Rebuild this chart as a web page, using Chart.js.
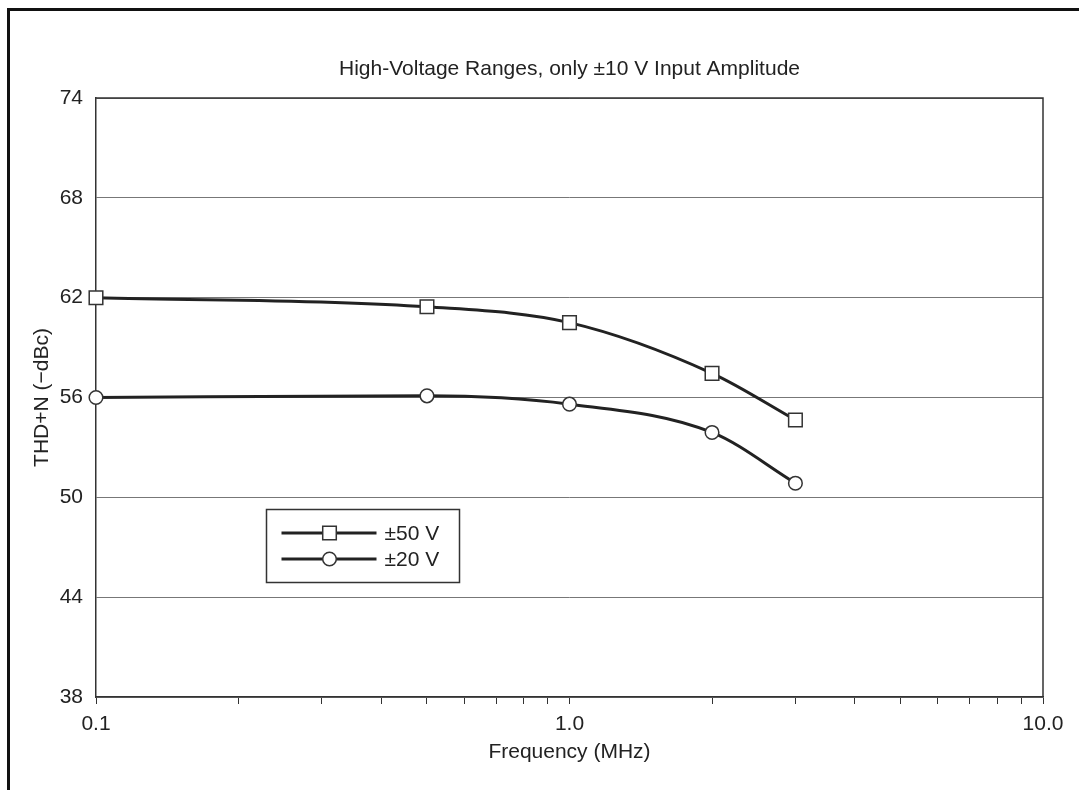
<!DOCTYPE html>
<html>
<head>
<meta charset="utf-8">
<script src="https://cdn.jsdelivr.net/npm/chart.js@4.4.1/dist/chart.umd.min.js"></script>
<style>
  html, body { margin: 0; padding: 0; background: #fff; overflow: hidden; }
  #wrap { position: relative; width: 1079px; height: 790px; }
  #frame { position: absolute; left: 7px; top: 8px; width: 1200px; height: 900px;
           border-top: 3px solid #111; border-left: 3px solid #111; box-sizing: border-box; }
  #c { position: absolute; left: 0; top: 0; }
</style>
</head>
<body>
<div id="wrap">
  <div id="frame"></div>
  <canvas id="c" width="1079" height="790"></canvas>
</div>
<script>
// ---- data ----
const chartTitle = 'High-Voltage Ranges, only \u00b110 V Input Amplitude';
const xAxisTitle = 'Frequency (MHz)';
const yAxisTitle = 'THD+N (\u2212dBc)';
const frequencies = [0.1, 0.5, 1.0, 2.0, 3.0];
const series50V = [62.0, 61.45, 60.5, 57.45, 54.65];
const series20V = [56.0, 56.1, 55.6, 53.9, 50.85];
const seriesLabels = ['\u00b150 V', '\u00b120 V'];
const yTicks = [38, 44, 50, 56, 62, 68, 74];
const xMajorTicks = [0.1, 1, 10];
const xMajorLabels = ['0.1', '1.0', '10.0'];

const FONT = "'Liberation Sans', Arial, Helvetica, sans-serif";
const FS = 21;
const INK = '#222';

const frameBorder = {
  id: 'frameBorder',
  afterDatasetsDraw(chart) {
    const {ctx, chartArea: a} = chart;
    ctx.save();
    ctx.strokeStyle = '#333';
    ctx.lineWidth = 1.5;
    ctx.beginPath();
    ctx.moveTo(a.left, a.top);
    ctx.lineTo(a.right, a.top);
    ctx.lineTo(a.right, a.bottom);
    ctx.stroke();
    ctx.restore();
  }
};

const boxLegend = {
  id: 'boxLegend',
  afterDraw(chart) {
    const {ctx, chartArea: a} = chart;
    const bx = a.left + 170.5, by = 509.5, bw = 193, bh = 73;
    ctx.save();
    ctx.fillStyle = '#fff';
    ctx.fillRect(bx, by, bw, bh);
    ctx.strokeStyle = '#333';
    ctx.lineWidth = 1.5;
    ctx.strokeRect(bx, by, bw, bh);
    const rows = [533, 559];
    chart.data.datasets.forEach((ds, i) => {
      const y = rows[i];
      ctx.strokeStyle = ds.borderColor;
      ctx.lineWidth = ds.borderWidth;
      ctx.beginPath();
      ctx.moveTo(bx + 15, y);
      ctx.lineTo(bx + 110, y);
      ctx.stroke();
      ctx.fillStyle = ds.pointBackgroundColor;
      ctx.strokeStyle = ds.pointBorderColor;
      ctx.lineWidth = ds.pointBorderWidth;
      Chart.helpers.drawPoint(ctx, {
        pointStyle: ds.pointStyle, rotation: 0,
        radius: ds.pointRadius, borderWidth: ds.pointBorderWidth
      }, bx + 63, y);
      ctx.fillStyle = INK;
      ctx.font = FS + 'px ' + FONT;
      ctx.textBaseline = 'middle';
      ctx.textAlign = 'left';
      ctx.fillText(ds.label, bx + 118, y + 1);
    });
    ctx.restore();
  }
};

function pointOpts(style, radius) {
  return {
    pointStyle: style,
    pointRadius: radius,
    pointHoverRadius: radius,
    pointBackgroundColor: '#fff',
    pointBorderColor: '#333',
    pointBorderWidth: 1.5
  };
}

new Chart(document.getElementById('c'), {
  type: 'line',
  data: {
    datasets: [
      Object.assign({
        label: seriesLabels[0],
        data: frequencies.map((f, i) => ({x: f, y: series50V[i]})),
        borderColor: INK,
        borderWidth: 3,
        cubicInterpolationMode: 'monotone',
        clip: false,
        fill: false
      }, pointOpts('rect', 9.6)),
      Object.assign({
        label: seriesLabels[1],
        data: frequencies.map((f, i) => ({x: f, y: series20V[i]})),
        borderColor: INK,
        borderWidth: 3,
        cubicInterpolationMode: 'monotone',
        clip: false,
        fill: false
      }, pointOpts('circle', 6.8))
    ]
  },
  options: {
    responsive: false,
    animation: false,
    events: [],
    layout: { padding: { left: 0, right: 36, top: 0, bottom: 0 } },
    plugins: {
      legend: { display: false },
      tooltip: { enabled: false },
      title: {
        display: true,
        text: chartTitle,
        fullSize: false,
        color: INK,
        font: { family: FONT, size: FS, weight: 'normal', lineHeight: 1.2 },
        padding: { top: 57, bottom: 15.8 }
      }
    },
    scales: {
      x: {
        type: 'logarithmic',
        min: 0.1,
        max: 10,
        afterBuildTicks(scale) {
          const vals = [];
          for (let d = 0.1; d < 10 - 1e-9; d *= 10) {
            for (let m = 1; m <= 9; m++) vals.push(+(m * d).toPrecision(3));
          }
          vals.push(10);
          scale.ticks = vals.map(v => ({value: v}));
        },
        afterFit(scale) { scale.height = 93; },
        ticks: {
          autoSkip: false,
          maxRotation: 0,
          minRotation: 0,
          padding: 8,
          color: INK,
          font: { family: FONT, size: FS },
          callback(value) {
            const idx = xMajorTicks.findIndex(t => Math.abs(t - value) < 1e-9);
            return idx >= 0 ? xMajorLabels[idx] : '';
          }
        },
        grid: {
          display: true,
          drawOnChartArea: false,
          drawTicks: true,
          tickLength: 7,
          color: '#333',
          lineWidth: 1
        },
        border: { display: true, color: '#333', width: 1.5 },
        title: {
          display: true,
          text: xAxisTitle,
          color: INK,
          font: { family: FONT, size: FS, lineHeight: 1.2 },
          padding: { top: 0, bottom: 25 }
        }
      },
      y: {
        type: 'linear',
        min: yTicks[0],
        max: yTicks[yTicks.length - 1],
        afterBuildTicks(scale) { scale.ticks = yTicks.map(v => ({value: v})); },
        afterFit(scale) { scale.width = 96; },
        ticks: {
          padding: 13,
          color: INK,
          font: { family: FONT, size: FS }
        },
        grid: {
          drawTicks: false,
          color: '#777',
          lineWidth: 1
        },
        border: { display: true, color: '#333', width: 1.5 },
        title: {
          display: true,
          text: yAxisTitle,
          color: INK,
          font: { family: FONT, size: FS, lineHeight: 1.2 },
          padding: { top: 30, bottom: 0 }
        }
      }
    }
  },
  plugins: [frameBorder, boxLegend]
});
</script>
</body>
</html>
